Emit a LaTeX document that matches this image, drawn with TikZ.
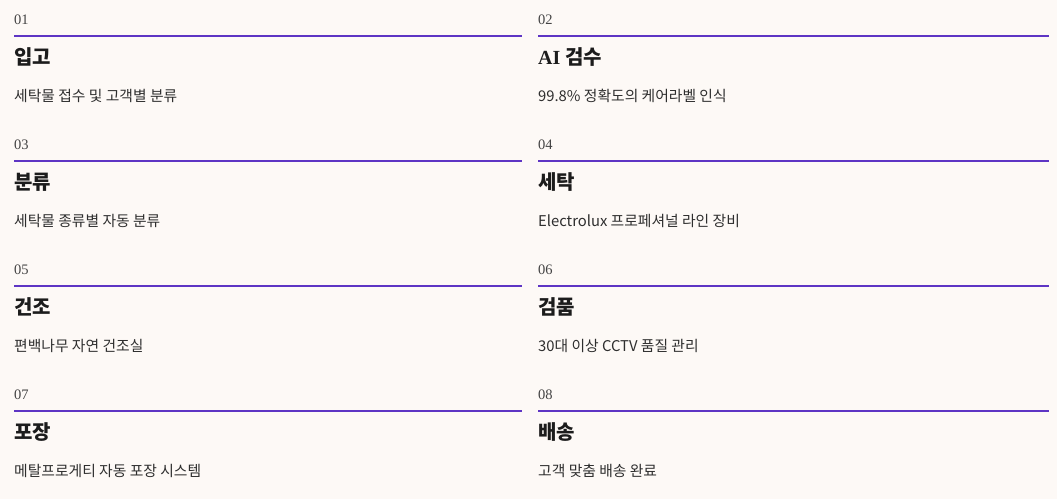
\documentclass[tikz,border=0pt]{standalone}
\usepackage{fontspec}
\setmainfont{Noto Sans CJK KR}
\newfontfamily\numfont{Liberation Serif}
\newfontfamily\titlelatin{Liberation Serif}
\definecolor{bgcol}{HTML}{FDF9F6}
\definecolor{linecol}{HTML}{5E35C4}
\definecolor{titlecol}{HTML}{1C1C1C}
\definecolor{desccol}{HTML}{2E2E2E}
\definecolor{numcol}{HTML}{444444}
\tikzset{
  numlabel/.style={anchor=base west, inner sep=0pt, text=numcol, font=\numfont\fontsize{14.5}{14.5}\selectfont},
  titlelabel/.style={anchor=base west, inner sep=0pt, text=titlecol, font=\bfseries\fontsize{20}{20}\selectfont},
  desclabel/.style={anchor=base west, inner sep=0pt, text=desccol, font=\fontsize{14.8}{14.8}\selectfont},
  rule/.style={draw=linecol, line width=2pt}
}
\newcommand{\stagecell}[5]{%
  \node[numlabel] (#1num) at (#2,24+#4) {#5};
  \draw[rule] (#2,36+#4) -- (#3,36+#4);
}
\begin{document}
\begin{tikzpicture}[x=1pt,y=-1pt]
\fill[bgcol] (0,0) rectangle (1057,499);
\useasboundingbox (0,0) rectangle (1057,499);
% row 1
\stagecell{a}{14}{522}{0}{01}
\node[titlelabel] (atitle) at (14,64.5) {입고};
\node[desclabel] (adesc) at (14,101.5) {세탁물 접수 및 고객별 분류};
\stagecell{b}{538}{1049}{0}{02}
\node[titlelabel] (btitle) at (538,64.5) {{\titlelatin AI} 검수};
\node[desclabel] (bdesc) at (538,101.5) {99.8\% 정확도의 케어라벨 인식};
% row 2
\stagecell{c}{14}{522}{125}{03}
\node[titlelabel] (ctitle) at (14,189.5) {분류};
\node[desclabel] (cdesc) at (14,226.5) {세탁물 종류별 자동 분류};
\stagecell{d}{538}{1049}{125}{04}
\node[titlelabel] (dtitle) at (538,189.5) {세탁};
\node[desclabel] (ddesc) at (538,226.5) {Electrolux 프로페셔널 라인 장비};
% row 3
\stagecell{e}{14}{522}{250}{05}
\node[titlelabel] (etitle) at (14,314.5) {건조};
\node[desclabel] (edesc) at (14,351.5) {편백나무 자연 건조실};
\stagecell{f}{538}{1049}{250}{06}
\node[titlelabel] (ftitle) at (538,314.5) {검품};
\node[desclabel] (fdesc) at (538,351.5) {30대 이상 CCTV 품질 관리};
% row 4
\stagecell{g}{14}{522}{375}{07}
\node[titlelabel] (gtitle) at (14,439.5) {포장};
\node[desclabel] (gdesc) at (14,476.5) {메탈프로게티 자동 포장 시스템};
\stagecell{h}{538}{1049}{375}{08}
\node[titlelabel] (htitle) at (538,439.5) {배송};
\node[desclabel] (hdesc) at (538,476.5) {고객 맞춤 배송 완료};
\end{tikzpicture}
\end{document}
